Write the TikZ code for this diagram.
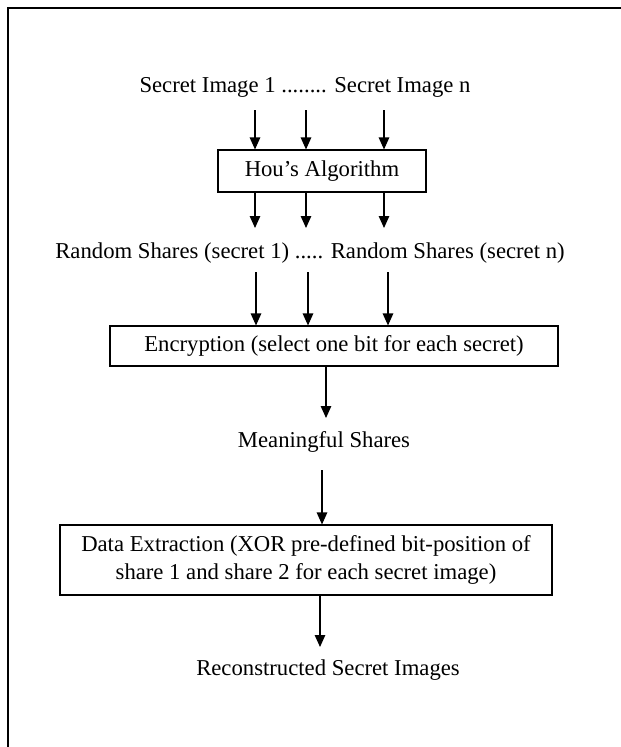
\documentclass[tikz,border=0pt]{standalone}
\usepackage{fontspec}
\setmainfont{Liberation Serif}
\usetikzlibrary{arrows.meta}
\begin{document}
\begin{tikzpicture}[x=1pt,y=-1pt,
  label/.style={inner sep=0pt,anchor=base,font=\fontsize{22.7}{27.5}\selectfont},
  procbox/.style={draw,line width=1.1pt,inner sep=0pt,align=center,
    font=\fontsize{22.7}{28}\selectfont},
  flow/.style={line width=1.2pt,-{Triangle[length=12pt,width=10.5pt]}},
  frameline/.style={line width=1.5pt}]
\useasboundingbox (0,0) rectangle (621,747);
\fill[white] (0,0) rectangle (621,747);

% page frame (left and top edges)
\coordinate (fa) at (8,747);
\coordinate (fb) at (8,8);
\coordinate (fc) at (621,8);
\draw[frameline] (fa) -- (fb) -- (fc);

% texts
\node[label] (t1) at (305,92) {Secret Image 1 ........ Secret Image n};
\node[label] (t2) at (310,258) {Random Shares (secret 1) ..... Random Shares (secret n)};
\node[label] (t3) at (324,447) {Meaningful Shares};
\node[label] (t4) at (328,675) {Reconstructed Secret Images};

% processing boxes
\node[procbox,minimum width=208pt,minimum height=42pt] (hou) at (322,171) {Hou’s Algorithm};
\node[procbox,minimum width=448pt,minimum height=40pt] (enc) at (334,346) {Encryption (select one bit for each secret)};
\node[procbox,minimum width=492pt,minimum height=70pt] (dex) at (306,560)
  {Data Extraction (XOR pre-defined bit-position of\\share 1 and share 2 for each secret image)};

% secret images into Hou's algorithm
\coordinate (a1) at (255,110);
\coordinate (a2) at (306,110);
\coordinate (a3) at (384,110);
\foreach \c in {a1,a2,a3} \draw[flow] (\c) -- (\c |- hou.north);

% Hou's algorithm out to random shares
\coordinate (b1) at (255,228);
\coordinate (b2) at (306,228);
\coordinate (b3) at (384,228);
\foreach \c in {b1,b2,b3} \draw[flow] (\c |- hou.south) -- (\c);

% random shares into encryption
\coordinate (c1) at (256,272);
\coordinate (c2) at (308,272);
\coordinate (c3) at (388,272);
\foreach \c in {c1,c2,c3} \draw[flow] (\c) -- (\c |- enc.north);

% encryption to meaningful shares
\coordinate (d1) at (326,418);
\draw[flow] (d1 |- enc.south) -- (d1);

% meaningful shares into data extraction
\coordinate (e1) at (322,470);
\draw[flow] (e1) -- (e1 |- dex.north);

% data extraction to reconstructed images
\coordinate (g1) at (320,647);
\draw[flow] (g1 |- dex.south) -- (g1);
\end{tikzpicture}
\end{document}
